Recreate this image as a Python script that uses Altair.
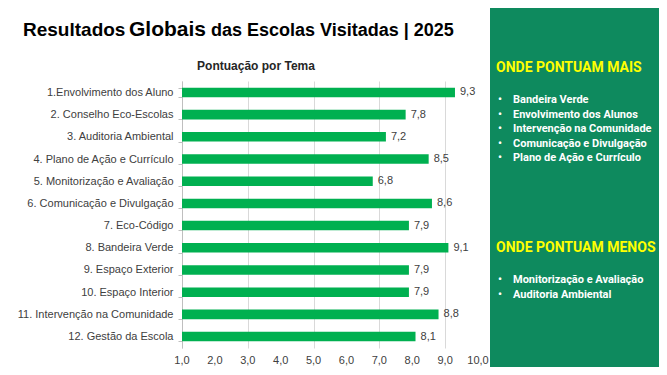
import altair as alt
import pandas as pd

# ---------------- data ----------------
temas = [
    "1.Envolvimento dos Aluno",
    "2. Conselho Eco-Escolas",
    "3. Auditoria Ambiental",
    "4. Plano de Ação e Currículo",
    "5. Monitorização e Avaliação",
    "6. Comunicação e Divulgação",
    "7. Eco-Código",
    "8. Bandeira Verde",
    "9. Espaço Exterior",
    "10. Espaço Interior",
    "11. Intervenção na Comunidade",
    "12. Gestão da Escola",
]
valores = [9.3, 7.8, 7.2, 8.5, 6.8, 8.6, 7.9, 9.1, 7.9, 7.9, 8.8, 8.1]
x_ticks = [1, 2, 3, 4, 5, 6, 7, 8, 9, 10]
x_min, x_max = 1, 10

titulo_a = "Resultados"
titulo_b = "Globais"
titulo_c = "das Escolas Visitadas | 2025"
subtitulo = "Pontuação por Tema"

cab_mais = "ONDE PONTUAM MAIS"
lista_mais = [
    "Bandeira Verde",
    "Envolvimento dos Alunos",
    "Intervenção na Comunidade",
    "Comunicação e Divulgação",
    "Plano de Ação e Currículo",
]
cab_menos = "ONDE PONTUAM MENOS"
lista_menos = [
    "Monitorização e Avaliação",
    "Auditoria Ambiental",
]

df = pd.DataFrame({"tema": temas, "valor": valores, "base": [x_min] * len(temas)})
df_ticks = pd.DataFrame({"tick": x_ticks})
one = pd.DataFrame({"k": [0]})

FONT = "Liberation Sans"
NARROW = "Roboto"
GREEN_BAR = "#00B050"
PANEL = "#0E8A5E"

y_enc = alt.Y(
    "tema:N",
    sort=temas,
    title=None,
    scale=alt.Scale(paddingInner=0.57, paddingOuter=0.3),
    axis=alt.Axis(
        domainColor="#BFBFBF",
        tickColor="#BFBFBF",
        tickSize=4,
        tickBand="extent",
        labelPadding=5,
        labelFont=FONT,
        labelFontSize=11,
        labelColor="#404040",
        labelLimit=300,
        grid=False,
    ),
)
x_enc = alt.X(
    "valor:Q",
    title=None,
    scale=alt.Scale(domain=[x_min, x_max], zero=False, nice=False),
    axis=alt.Axis(
        values=x_ticks,
        labels=False,
        domain=False,
        ticks=False,
        gridColor="#D9D9D9",
        gridWidth=1,
    ),
)

panel = alt.Chart(one).mark_rect(color=PANEL).encode(
    x=alt.value(308), x2=alt.value(500), y=alt.value(-100), y2=alt.value(320)
)

bars = alt.Chart(df).mark_bar(color=GREEN_BAR).encode(
    y=y_enc, x=x_enc, x2="base:Q"
)

labels = (
    alt.Chart(df)
    .transform_calculate(lbl="replace(format(datum.valor, '.1f'), '.', ',')")
    .mark_text(align="left", baseline="middle", dx=5, font=FONT, fontSize=11, color="#404040")
    .encode(y=alt.Y("tema:N", sort=temas), x="valor:Q", text="lbl:N")
)

x_labels = (
    alt.Chart(df_ticks)
    .transform_calculate(lbl="replace(format(datum.tick, '.1f'), '.', ',')")
    .mark_text(align="center", baseline="middle", font=FONT, fontSize=11, color="#404040")
    .encode(x=alt.X("tick:Q"), y=alt.value(280), text="lbl:N")
)

t_a = alt.Chart(one).mark_text(
    text=titulo_a, align="left", baseline="alphabetic", font=FONT, fontSize=19,
    fontWeight="bold", color="#000000"
).encode(x=alt.value(-159), y=alt.value(-45))
t_b = alt.Chart(one).mark_text(
    text=titulo_b, align="left", baseline="alphabetic", font=FONT, fontSize=21,
    fontWeight="bold", color="#000000"
).encode(x=alt.value(-53), y=alt.value(-45))
t_c = alt.Chart(one).mark_text(
    text=titulo_c, align="left", baseline="alphabetic", font=FONT, fontSize=18,
    fontWeight="bold", color="#000000"
).encode(x=alt.value(29), y=alt.value(-45))
sub = alt.Chart(one).mark_text(
    text=subtitulo, align="center", baseline="middle", font=FONT, fontSize=12,
    fontWeight="bold", color="#262626"
).encode(x=alt.value(74), y=alt.value(-15))

h_mais = alt.Chart(one).mark_text(
    text=cab_mais, align="left", baseline="middle", font=NARROW, fontSize=14,
    fontWeight="bold", color="#FFFF00"
).encode(x=alt.value(314), y=alt.value(-13))
b_mais = alt.Chart(one).mark_text(
    text=["•"] * len(lista_mais), align="left", baseline="middle", font=NARROW,
    fontSize=11, fontWeight="bold", color="#FFFFFF", lineHeight=14.6
).encode(x=alt.value(316), y=alt.value(19))
l_mais = alt.Chart(one).mark_text(
    text=lista_mais, align="left", baseline="middle", font=NARROW,
    fontSize=11, fontWeight="bold", color="#FFFFFF", lineHeight=14.6
).encode(x=alt.value(331), y=alt.value(19))

h_menos = alt.Chart(one).mark_text(
    text=cab_menos, align="left", baseline="middle", font=NARROW, fontSize=14,
    fontWeight="bold", color="#FFFF00"
).encode(x=alt.value(314), y=alt.value(167))
b_menos = alt.Chart(one).mark_text(
    text=["•"] * len(lista_menos), align="left", baseline="middle", font=NARROW,
    fontSize=11, fontWeight="bold", color="#FFFFFF", lineHeight=14.6
).encode(x=alt.value(316), y=alt.value(199))
l_menos = alt.Chart(one).mark_text(
    text=lista_menos, align="left", baseline="middle", font=NARROW,
    fontSize=11, fontWeight="bold", color="#FFFFFF", lineHeight=14.6
).encode(x=alt.value(331), y=alt.value(199))

chart = (
    alt.layer(panel, bars, labels, x_labels, t_a, t_b, t_c, sub,
              h_mais, b_mais, l_mais, h_menos, b_menos, l_menos)
    .properties(
        width=296,
        height=267,
        padding={"left": 174, "top": 73, "right": 181, "bottom": 19},
        autosize=alt.AutoSizeParams(type="none"),
    )
    .configure_view(stroke=None)
)

chart.save("out.html", embed_options={"renderer": "svg", "actions": False})
